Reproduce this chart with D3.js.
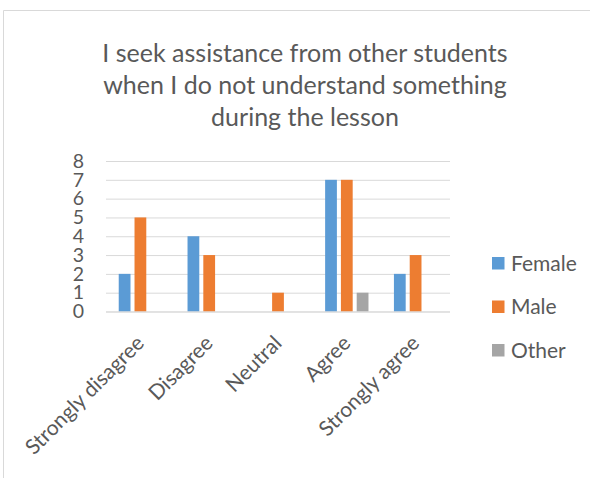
<!DOCTYPE html>
<html>
<head>
<meta charset="utf-8">
<script src="https://cdn.jsdelivr.net/npm/d3@7"></script>
<style>
  html, body { margin: 0; padding: 0; background: #fff; }
  svg { display: block; }
  text { font-family: Lato, "Open Sans", sans-serif; fill: #595959; }
</style>
</head>
<body>
<svg id="chart" width="590" height="478"></svg>
<script>
// Responses per answer option, split by gender
const categories = ["Strongly disagree", "Disagree", "Neutral", "Agree", "Strongly agree"];
const series = ["Female", "Male", "Other"];
const female = [2, 4, 0, 7, 2];
const male = [5, 3, 1, 7, 3];
const other = [0, 0, 0, 1, 0];
const yTicks = [0, 1, 2, 3, 4, 5, 6, 7, 8];
const titleLines = [
  "I seek assistance from other students",
  "when I do not understand something",
  "during the lesson"
];
const colors = ["#5B9BD5", "#ED7D31", "#A5A5A5"];

const values = { Female: female, Male: male, Other: other };
const rows = categories.map((c, i) => ({
  category: c,
  bars: series.map(s => ({ series: s, value: values[s][i] }))
}));

const svg = d3.select("#chart");

// Chart frame
svg.append("path")
  .attr("d", "M3.5,478 V10.5 H590")
  .attr("fill", "none")
  .attr("stroke", "#D9D9D9")
  .attr("stroke-width", 1);

// Title
const title = svg.append("g");
titleLines.forEach((t, i) => {
  title.append("text")
    .attr("x", 305)
    .attr("y", 62 + i * 32)
    .attr("text-anchor", "middle")
    .attr("font-size", 25)
    .text(t);
});

const plot = { left: 106, right: 450, top: 161, bottom: 311.5 };

const x0 = d3.scaleBand()
  .domain(categories)
  .range([plot.left, plot.right])
  .paddingInner(0)
  .paddingOuter(0);

const bw = x0.bandwidth();
const x1 = d3.scaleBand()
  .domain(series)
  .range([bw * 0.185, bw * 0.815])
  .paddingInner(0.255)
  .paddingOuter(0);

const y = d3.scaleLinear()
  .domain([0, 8])
  .range([plot.bottom, plot.top]);

const color = d3.scaleOrdinal().domain(series).range(colors);

// Gridlines and value labels
const yAxis = d3.axisLeft(y)
  .tickValues(yTicks)
  .tickSize(-(plot.right - plot.left))
  .tickPadding(22)
  .tickFormat(d3.format("d"));

const yg = svg.append("g")
  .attr("transform", `translate(${plot.left},0)`)
  .call(yAxis);
yg.select(".domain").remove();
yg.selectAll(".tick line").attr("stroke", "#D9D9D9").attr("stroke-width", 1);
yg.selectAll(".tick text")
  .attr("font-size", 19.5)
  .attr("fill", "#595959")
  .attr("font-family", "Lato, 'Open Sans', sans-serif");

// Bars
const groups = svg.append("g")
  .selectAll("g")
  .data(rows)
  .join("g")
  .attr("transform", d => `translate(${x0(d.category)},0)`);

groups.selectAll("rect")
  .data(d => d.bars)
  .join("rect")
  .attr("x", d => x1(d.series))
  .attr("width", x1.bandwidth())
  .attr("y", d => y(d.value))
  .attr("height", d => y(0) - y(d.value))
  .attr("fill", d => color(d.series));

// Category axis baseline
svg.append("line")
  .attr("x1", plot.left).attr("x2", plot.right)
  .attr("y1", y(0) + 0.5).attr("y2", y(0) + 0.5)
  .attr("stroke", "#D9D9D9");

// Category labels, rotated
svg.append("g")
  .selectAll("text")
  .data(categories)
  .join("text")
  .attr("transform", d => `translate(${x0(d) + bw / 2 + 5},${plot.bottom + 33}) rotate(-45)`)
  .attr("text-anchor", "end")
  .attr("font-size", 21)
  .text(d => d);

// Legend
const legend = svg.append("g")
  .selectAll("g")
  .data(series)
  .join("g")
  .attr("transform", (d, i) => `translate(492,${257 + i * 43.5})`);

legend.append("rect")
  .attr("width", 12.5)
  .attr("height", 12.5)
  .attr("fill", d => color(d));

legend.append("text")
  .attr("x", 19)
  .attr("y", 13.5)
  .attr("font-size", 21)
  .text(d => d);
</script>
</body>
</html>
